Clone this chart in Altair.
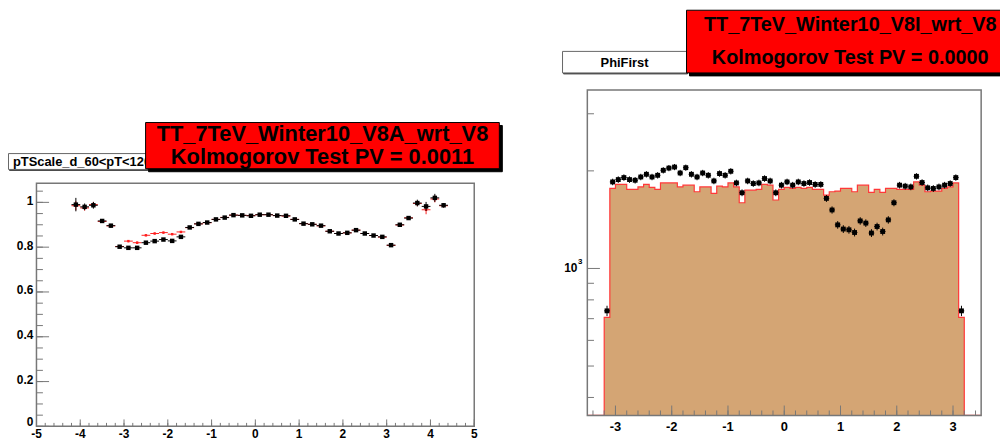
import altair as alt
import pandas as pd
import math

# ---------------- data: left panel (pTScale_d_60<pT<120) ----------------
left_centers = [-4.1, -3.9, -3.7, -3.5, -3.3, -3.1, -2.9, -2.7, -2.5, -2.3,
                -2.1, -1.9, -1.7, -1.5, -1.3, -1.1, -0.9, -0.7, -0.5, -0.3,
                -0.1, 0.1, 0.3, 0.5, 0.7, 0.9, 1.1, 1.3, 1.5, 1.7,
                1.9, 2.1, 2.3, 2.5, 2.7, 2.9, 3.1, 3.3, 3.5, 3.7,
                3.9, 4.1, 4.3]
left_new = [0.990, 0.980, 0.987, 0.917, 0.896, 0.802, 0.797, 0.797, 0.820, 0.827,
            0.834, 0.828, 0.846, 0.888, 0.904, 0.910, 0.924, 0.932, 0.943, 0.942,
            0.940, 0.945, 0.945, 0.941, 0.940, 0.924, 0.905, 0.902, 0.896, 0.871,
            0.861, 0.864, 0.876, 0.861, 0.852, 0.846, 0.809, 0.900, 0.930, 0.997,
            0.982, 1.020, 0.987]
left_new_err = [0.030, 0.015, 0.015, 0.008, 0.008, 0.006, 0.006, 0.006, 0.005, 0.005,
                0.005, 0.005, 0.005, 0.005, 0.004, 0.004, 0.004, 0.004, 0.004, 0.004,
                0.004, 0.004, 0.004, 0.004, 0.004, 0.004, 0.004, 0.004, 0.004, 0.005,
                0.005, 0.005, 0.005, 0.005, 0.005, 0.005, 0.006, 0.008, 0.008, 0.015,
                0.020, 0.018, 0.010]
left_ref = [0.985, 0.975, 0.990, 0.915, 0.895, 0.803, 0.827, 0.820, 0.853, 0.861,
            0.865, 0.858, 0.868, 0.887, 0.904, 0.909, 0.924, 0.933, 0.943, 0.942,
            0.941, 0.945, 0.945, 0.941, 0.939, 0.924, 0.905, 0.902, 0.895, 0.871,
            0.861, 0.864, 0.876, 0.861, 0.852, 0.845, 0.808, 0.899, 0.931, 0.995,
            0.967, 1.015, 0.985]
left_ref_err = [0.020, 0.012, 0.012, 0.007, 0.007, 0.005, 0.005, 0.005, 0.004, 0.004,
                0.004, 0.004, 0.004, 0.004, 0.003, 0.003, 0.003, 0.003, 0.003, 0.003,
                0.003, 0.003, 0.003, 0.003, 0.003, 0.003, 0.003, 0.003, 0.003, 0.004,
                0.004, 0.004, 0.004, 0.004, 0.004, 0.004, 0.005, 0.007, 0.007, 0.012,
                0.020, 0.015, 0.008]
left_half_width = 0.1
left_xticks_major = [-5, -4, -3, -2, -1, 0, 1, 2, 3, 4, 5]
left_xlabels = ["-5", "-4", "-3", "-2", "-1", "0", "1", "2", "3", "4", "5"]
left_yticks_major = [0, 0.2, 0.4, 0.6, 0.8, 1.0]
left_ylabels = ["0", "0.2", "0.4", "0.6", "0.8", "1"]

# ---------------- data: right panel (PhiFirst) ----------------
right_bin_width = 0.1
right_lo_edges = [round(-3.5 + right_bin_width * i, 1) for i in range(70)]
right_ref = ([0, 0, 0, 706] +
             [1765, 1816, 1816, 1753, 1753, 1785, 1816, 1778, 1753, 1836,
              1836, 1836, 1785, 1807, 1807, 1724, 1785, 1785, 1705, 1794,
              1785, 1836, 1785, 1595, 1744, 1744, 1753, 1816, 1807, 1626,
              1753, 1778, 1765, 1778, 1765, 1778, 1753, 1753, 1684, 1724,
              1732, 1765, 1765, 1724, 1807, 1807, 1717, 1753, 1717, 1765,
              1765, 1753, 1753, 1753, 1849, 1807, 1724, 1732, 1732, 1765,
              1785, 1836] +
             [706, 0, 0, 0])
right_new = ([0, 0, 0, 740] +
             [1849, 1880, 1907, 1880, 1871, 1915, 1952, 1915, 1938, 2008,
              2040, 2055, 1970, 2046, 1952, 1915, 1970, 1938, 1862, 1962,
              1938, 1994, 1836, 1712, 1862, 1828, 1836, 1894, 1862, 1712,
              1807, 1849, 1807, 1849, 1828, 1841, 1816, 1816, 1645, 1515,
              1363, 1323, 1316, 1291, 1402, 1380, 1286, 1347, 1300, 1412,
              1595, 1807, 1794, 1785, 1924, 1841, 1773, 1765, 1785, 1807,
              1828, 1907] +
             [740, 0, 0, 0])
right_xticks_major = [-3, -2, -1, 0, 1, 2, 3]
right_xlabels = ["-3", "-2", "-1", "0", "1", "2", "3"]
right_yminor = [400, 500, 600, 700, 800, 900, 2000, 3000]

# ---------------- layout ----------------
W, H = 1000, 432
L_X0, L_X1, L_Y0, L_Y1 = 28.7, 470.0, 420.0, 175.0
R_X0, R_X1, R_Y0, R_Y1 = 584.0, 981.0, 409.0, 81.0
L_YMAX = 1.085
R_YMIN, R_YMAX = 352, 3550
FONT = "Liberation Sans"
FRAME = "#777777"


def lx():
    return alt.Scale(domain=[-5, 5], range=[L_X0, L_X1], nice=False, zero=False)


def ly():
    return alt.Scale(domain=[0, L_YMAX], range=[L_Y0, L_Y1], nice=False, zero=False)


def rx():
    return alt.Scale(domain=[-3.5, 3.5], range=[R_X0, R_X1], nice=False, zero=False)


def ry():
    return alt.Scale(type="log", domain=[R_YMIN, R_YMAX], range=[R_Y0, R_Y1], nice=False)


def X(field, sc):
    return alt.X(field, type="quantitative", scale=sc, axis=None)


def Y(field, sc):
    return alt.Y(field, type="quantitative", scale=sc, axis=None)


one = pd.DataFrame({"a": [0]})
layers = []

# ---------- left panel ----------
ldf = pd.DataFrame({"x": left_centers, "new": left_new, "ne": left_new_err,
                    "ref": left_ref, "re": left_ref_err})
ldf["xlo"] = ldf["x"] - left_half_width
ldf["xhi"] = ldf["x"] + left_half_width
ldf["nlo"] = ldf["new"] - ldf["ne"]
ldf["nhi"] = ldf["new"] + ldf["ne"]
ldf["rlo"] = ldf["ref"] - ldf["re"]
ldf["rhi"] = ldf["ref"] + ldf["re"]

lframe = pd.DataFrame({"x": [-5], "x2": [5], "y": [0], "y2": [L_YMAX]})
layers.append(alt.Chart(lframe).mark_rect(fill="white", stroke=FRAME, strokeWidth=1.5).encode(
    x=X("x", lx()), x2="x2", y=Y("y", ly()), y2="y2"))

# reference (red)
layers.append(alt.Chart(ldf).mark_rule(color="#ff2020", strokeWidth=1).encode(
    x=X("xlo", lx()), x2="xhi", y=Y("ref", ly())))
layers.append(alt.Chart(ldf).mark_rule(color="#ff2020", strokeWidth=1).encode(
    x=X("x", lx()), y=Y("rlo", ly()), y2="rhi"))
layers.append(alt.Chart(ldf).mark_square(color="#ff2020", size=6, opacity=1).encode(
    x=X("x", lx()), y=Y("ref", ly())))
# new (black)
layers.append(alt.Chart(ldf).mark_rule(color="black", strokeWidth=1).encode(
    x=X("xlo", lx()), x2="xhi", y=Y("new", ly())))
layers.append(alt.Chart(ldf).mark_rule(color="black", strokeWidth=1).encode(
    x=X("x", lx()), y=Y("nlo", ly()), y2="nhi"))
layers.append(alt.Chart(ldf).mark_square(color="black", size=20, opacity=1).encode(
    x=X("x", lx()), y=Y("new", ly())))

# left ticks (inward, ROOT style)
lxt_minor = pd.DataFrame({"v": [round(-5 + 0.2 * i, 1) for i in range(51)]})
lxt_major = pd.DataFrame({"v": left_xticks_major, "t": left_xlabels})
lyt_minor = pd.DataFrame({"v": [round(0.05 * i, 2) for i in range(22)]})
lyt_major = pd.DataFrame({"v": left_yticks_major, "t": left_ylabels})
lyt_upper = lyt_major[lyt_major["v"] > 0]
lyt_zero = lyt_major[lyt_major["v"] == 0]
layers.append(alt.Chart(lxt_minor).mark_rule(color=FRAME, strokeWidth=1).encode(
    x=X("v", lx()), y=alt.value(L_Y0), y2=alt.value(L_Y0 - 3.5)))
layers.append(alt.Chart(lxt_major).mark_rule(color=FRAME, strokeWidth=1).encode(
    x=X("v", lx()), y=alt.value(L_Y0), y2=alt.value(L_Y0 - 7)))
layers.append(alt.Chart(lyt_minor).mark_rule(color=FRAME, strokeWidth=1).encode(
    y=Y("v", ly()), x=alt.value(L_X0), x2=alt.value(L_X0 + 6.5)))
layers.append(alt.Chart(lyt_major).mark_rule(color=FRAME, strokeWidth=1).encode(
    y=Y("v", ly()), x=alt.value(L_X0), x2=alt.value(L_X0 + 12.7)))
layers.append(alt.Chart(lxt_major).mark_text(font=FONT, fontWeight="bold", fontSize=12,
                                             baseline="alphabetic", align="center", color="black").encode(
    x=X("v", lx()), y=alt.value(432), text="t:N"))
layers.append(alt.Chart(lyt_upper).mark_text(font=FONT, fontWeight="bold", fontSize=12,
                                             baseline="middle", align="right", color="black", dy=-1.5).encode(
    y=Y("v", ly()), x=alt.value(25.5), text="t:N"))
layers.append(alt.Chart(lyt_zero).mark_text(font=FONT, fontWeight="bold", fontSize=12,
                                            baseline="middle", align="right", color="black", dy=-4.5).encode(
    y=Y("v", ly()), x=alt.value(25.5), text="t:N"))

# ---------- right panel ----------
rdf = pd.DataFrame({"lo": right_lo_edges, "ref": right_ref, "new": right_new})
rdf["hi"] = (rdf["lo"] + right_bin_width).round(2)
rdf["c"] = (rdf["lo"] + right_bin_width / 2).round(3)
rdf["ref_plot"] = rdf["ref"].clip(lower=R_YMIN)
nz = rdf[rdf["new"] > 0].copy()
nz["err"] = nz["new"].apply(math.sqrt)
nz["nlo"] = nz["new"] - nz["err"]
nz["nhi"] = nz["new"] + nz["err"]
nz["xlo"] = nz["c"] - right_bin_width / 2
nz["xhi"] = nz["c"] + right_bin_width / 2
step = pd.concat([rdf[["lo", "ref_plot"]],
                  pd.DataFrame({"lo": [3.5], "ref_plot": [rdf["ref_plot"].iloc[-1]]})],
                 ignore_index=True)
step["base"] = R_YMIN

rframe = pd.DataFrame({"x": [-3.5], "x2": [3.5], "y": [R_YMIN], "y2": [R_YMAX]})
layers.append(alt.Chart(rframe).mark_rect(fill="white", strokeWidth=0).encode(
    x=X("x", rx()), x2="x2", y=Y("y", ry()), y2="y2"))
layers.append(alt.Chart(step).mark_area(interpolate="step-after", color="#d4a574", opacity=1).encode(
    x=X("lo", rx()), y=Y("ref_plot", ry()), y2="base"))
layers.append(alt.Chart(step).mark_line(interpolate="step-after", color="#ff3838", strokeWidth=1.2).encode(
    x=X("lo", rx()), y=Y("ref_plot", ry())))
layers.append(alt.Chart(nz).mark_rule(color="black", strokeWidth=1).encode(
    x=X("c", rx()), y=Y("nlo", ry()), y2="nhi"))
layers.append(alt.Chart(nz).mark_rule(color="black", strokeWidth=1).encode(
    x=X("xlo", rx()), x2="xhi", y=Y("new", ry())))
layers.append(alt.Chart(nz).mark_square(color="black", size=24, opacity=1).encode(
    x=X("c", rx()), y=Y("new", ry())))
layers.append(alt.Chart(rframe).mark_rect(fillOpacity=0, stroke=FRAME, strokeWidth=1.5).encode(
    x=X("x", rx()), x2="x2", y=Y("y", ry()), y2="y2"))

rxt_minor = pd.DataFrame({"v": [round(-3.4 + 0.2 * i, 1) for i in range(35)]})
rxt_major = pd.DataFrame({"v": right_xticks_major, "t": right_xlabels})
ryt_minor = pd.DataFrame({"v": right_yminor})
ryt_major = pd.DataFrame({"v": [1000], "t": ["10"], "s": ["3"]})
layers.append(alt.Chart(rxt_minor).mark_rule(color=FRAME, strokeWidth=1).encode(
    x=X("v", rx()), y=alt.value(R_Y0), y2=alt.value(R_Y0 - 5)))
layers.append(alt.Chart(rxt_major).mark_rule(color=FRAME, strokeWidth=1).encode(
    x=X("v", rx()), y=alt.value(R_Y0), y2=alt.value(R_Y0 - 10)))
layers.append(alt.Chart(ryt_minor).mark_rule(color=FRAME, strokeWidth=1).encode(
    y=Y("v", ry()), x=alt.value(R_X0), x2=alt.value(R_X0 + 6.7)))
layers.append(alt.Chart(ryt_major).mark_rule(color=FRAME, strokeWidth=1).encode(
    y=Y("v", ry()), x=alt.value(R_X0), x2=alt.value(R_X0 + 12.7)))
layers.append(alt.Chart(rxt_major).mark_text(font=FONT, fontWeight="bold", fontSize=13,
                                             baseline="middle", align="center", color="black").encode(
    x=X("v", rx()), y=alt.value(421), text="t:N"))
layers.append(alt.Chart(ryt_major).mark_text(font=FONT, fontWeight="bold", fontSize=12,
                                             baseline="middle", align="right", color="black").encode(
    y=Y("v", ry()), x=alt.value(574), text="t:N"))
layers.append(alt.Chart(ryt_major).mark_text(font=FONT, fontWeight="bold", fontSize=8,
                                             baseline="middle", align="left", color="black", dy=-6).encode(
    y=Y("v", ry()), x=alt.value(574.5), text="s:N"))

# ---------- title boxes ----------
def box(x0, x1, y0, y1, fill, stroke, sw=1):
    return alt.Chart(one).mark_rect(fill=fill, stroke=stroke, strokeWidth=sw).encode(
        x=alt.value(x0), x2=alt.value(x1), y=alt.value(y0), y2=alt.value(y1))


def label(txt, x, y, size, align="center"):
    return alt.Chart(one).mark_text(text=txt, font=FONT, fontWeight="bold", fontSize=size,
                                    align=align, baseline="middle", color="black").encode(
        x=alt.value(x), y=alt.value(y))


# left
layers.append(box(1.5, 141, 146, 162, "#444444", "#444444"))
layers.append(box(0.5, 140, 145, 161, "white", "#666666"))
layers.append(label("pTScale_d_60<pT<120", 5, 153.5, 13, "left"))
layers.append(box(141.7, 498.3, 116.7, 163.3, "black", "black"))
layers.append(box(138.7, 495.3, 113.7, 160.3, "#ff0000", "black"))
layers.append(label("TT_7TeV_Winter10_V8A_wrt_V8", 317, 125.5, 22))
layers.append(label("Kolmogorov Test PV = 0.0011", 317, 149, 22))
# right
layers.append(box(560, 685, 43, 64.7, "#444444", "#444444"))
layers.append(box(559, 684, 42, 63.7, "white", "#666666"))
layers.append(label("PhiFirst", 621.5, 53.5, 13))
layers.append(box(687, 1005, 3, 66.7, "black", "black"))
layers.append(box(684, 1004, 0.5, 63.7, "#ff0000", "black"))
layers.append(label("TT_7TeV_Winter10_V8I_wrt_V8", 849, 15, 20))
layers.append(label("Kolmogorov Test PV = 0.0000", 849, 49, 20))

chart = alt.layer(*layers).resolve_scale(x="independent", y="independent").properties(
    width=W, height=H, padding=0, autosize=alt.AutoSizeParams(type="none"),
    background="white"
).configure_view(stroke=None)

chart.save("out.html", embed_options={"renderer": "svg", "actions": False})
